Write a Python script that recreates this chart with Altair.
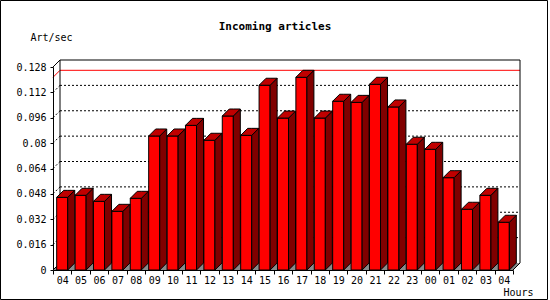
import json
import altair as alt
import pandas as pd

hours = ["04", "05", "06", "07", "08", "09", "10", "11", "12", "13", "14", "15", "16",
         "17", "18", "19", "20", "21", "22", "23", "00", "01", "02", "03", "04"]
rates = [0.0458, 0.0471, 0.0433, 0.0370, 0.0452, 0.0845, 0.0845, 0.0912, 0.0818,
         0.0971, 0.0849, 0.1165, 0.0958, 0.1215, 0.0958, 0.1064, 0.1057, 0.1171,
         0.1028, 0.0793, 0.0761, 0.0582, 0.0383, 0.0471, 0.0301]
y_ticks = [0, 0.016, 0.032, 0.048, 0.064, 0.08, 0.096, 0.112, 0.128]
title_text = "Incoming articles"

W, H = 460, 203
N = len(hours)
YMAX = y_ticks[-1]
DEPTH = 7
DX = DEPTH * N / W
DY = DEPTH * YMAX / H
FONT = "DejaVu Sans Mono"

xs = alt.Scale(domain=[0, N], nice=False, zero=False)
ys = alt.Scale(domain=[0, YMAX], nice=False)

label_expr = "datum.value < %d ? %s[datum.value] : ''" % (N, json.dumps(hours))
x_axis = alt.Axis(
    values=list(range(N + 1)), labelExpr=label_expr, labelOffset=W / N / 2,
    tickSize=4, tickColor="black", domainColor="black", labelColor="black",
    labelFont=FONT, labelFontSize=10, labelPadding=1, labelOverlap=False,
    labelFlush=False, grid=False, zindex=1,
    title="Hours", titleFont=FONT, titleFontSize=10, titleFontWeight="normal",
    titleColor="black", titleX=450, titleY=22, titleAlign="left",
    titleBaseline="middle", titleAnchor="start")
y_axis = alt.Axis(
    values=y_ticks, labelExpr="'' + datum.value", tickSize=3,
    tickColor="black", domainColor="black", labelColor="black",
    labelFont=FONT, labelFontSize=10, labelPadding=4, labelFlush=False,
    labelOverlap=False, grid=False, zindex=1,
    title="Art/sec", titleFont=FONT, titleFontSize=10, titleFontWeight="normal",
    titleColor="black", titleAngle=0, titleX=-23, titleY=-30,
    titleAlign="left", titleBaseline="middle")

X = lambda f: alt.X(f, type="quantitative", scale=xs, axis=x_axis)
Y = lambda f: alt.Y(f, type="quantitative", scale=ys, axis=y_axis)

# bar geometry derived from the data
front = pd.DataFrame({"x": [i + 0.2 for i in range(N)], "x2": [i + 0.8 for i in range(N)],
                      "y": [0.0] * N, "y2": rates, "hour": hours})
side_rows, top_rows = [], []
for i, v in enumerate(rates):
    side_rows += [dict(bar=i, x=i + 0.8, y=v, y2=0.0),
                  dict(bar=i, x=i + 0.8 + DX, y=v + DY, y2=DY)]
    top_rows += [dict(bar=i, x=i + 0.2, y=v, y2=v),
                 dict(bar=i, x=i + 0.2 + DX, y=v + DY, y2=v),
                 dict(bar=i, x=i + 0.8, y=v + DY, y2=v),
                 dict(bar=i, x=i + 0.8 + DX, y=v + DY, y2=v + DY)]
side = pd.DataFrame(side_rows)
top = pd.DataFrame(top_rows)

floor = pd.DataFrame([dict(bar=0, x=0, y=0, y2=0), dict(bar=0, x=DX, y=DY, y2=0),
                      dict(bar=0, x=N, y=DY, y2=0), dict(bar=0, x=N + DX, y=DY, y2=DY)])

grid_vals = y_ticks[1:-1]
grid_back = pd.DataFrame({"x": [DX] * len(grid_vals), "x2": [N + DX] * len(grid_vals),
                          "y": [g + DY for g in grid_vals], "y2": [g + DY for g in grid_vals]})
grid_diag = pd.DataFrame({"x": [0] * len(grid_vals), "x2": [DX] * len(grid_vals),
                          "y": grid_vals, "y2": [g + DY for g in grid_vals]})

vmax = max(rates)
maxline = pd.DataFrame({"x": [DX, 0], "x2": [N + DX, DX], "y": [vmax + DY, vmax],
                        "y2": [vmax + DY, vmax + DY]})

frame = pd.DataFrame({
    "x": [DX, DX, N + DX, 0, N, 0],
    "x2": [DX, N + DX, N + DX, DX, N + DX, DX],
    "y": [DY, YMAX + DY, DY, YMAX, 0, 0],
    "y2": [YMAX + DY, YMAX + DY, YMAX + DY, YMAX + DY, DY, DY],
})


def seg(df, **kw):
    return alt.Chart(df).mark_rule(**kw).encode(x=X("x"), x2="x2", y=Y("y"), y2="y2")


def poly(df, **kw):
    return alt.Chart(df).mark_area(**kw).encode(x=X("x"), y=Y("y"), y2="y2", detail="bar:N")


floor_l = poly(floor, color="#8a8a8a")
grid1 = seg(grid_back, color="black", strokeDash=[2, 2])
grid2 = seg(grid_diag, color="black", strokeDash=[2, 2])
red = seg(maxline, color="#ff0000")
frame_l = seg(frame, color="black")

fronts = alt.Chart(front).mark_rect(color="#ff0000", stroke="black", strokeWidth=1).encode(
    x=X("x"), x2="x2", y=Y("y"), y2="y2")
sides = poly(side, color="#800000", stroke="black", strokeWidth=1)
tops = poly(top, color="#c00000", stroke="black", strokeWidth=1)

title_l = alt.Chart(pd.DataFrame({"t": [title_text]})).mark_text(
    font=FONT, fontSize=11, fontWeight="bold", color="black",
    align="center", baseline="middle").encode(
    text="t:N", x=alt.value(222), y=alt.value(-40))

border = alt.Chart(pd.DataFrame({"k": [0]})).mark_rect(
    fill="transparent", stroke="black", strokeWidth=1).encode(
    x=alt.value(-52.5), x2=alt.value(494.5), y=alt.value(-66.5), y2=alt.value(232.5))

chart = alt.layer(floor_l, grid1, grid2, red, frame_l, fronts, sides, tops,
                  title_l, border).properties(
    width=W, height=H,
    autosize=alt.AutoSizeParams(type="none"),
    padding={"left": 53, "top": 67, "right": 37, "bottom": 30},
).configure(background="white").configure_view(stroke="transparent")

chart.save("out.html", embed_options={"renderer": "svg", "actions": False})
